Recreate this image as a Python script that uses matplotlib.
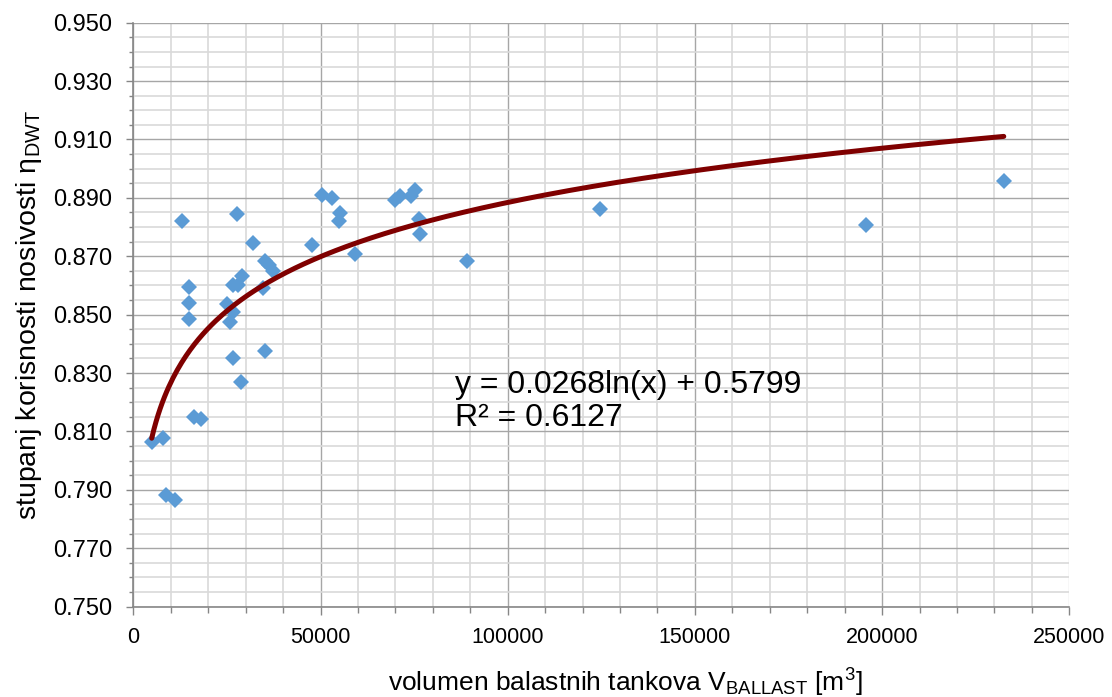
import numpy as np
import matplotlib
matplotlib.use("Agg")
import matplotlib.pyplot as plt
from matplotlib.ticker import MultipleLocator, FormatStrFormatter

plt.rcParams['font.family'] = ['Liberation Sans', 'DejaVu Sans']
plt.rcParams['mathtext.fontset'] = 'custom'
plt.rcParams['mathtext.rm'] = 'Liberation Sans'
plt.rcParams['mathtext.it'] = 'Liberation Sans:italic'

# ballast tank volume [m3] and deadweight efficiency
volume = [4910, 8010, 8730, 11130, 12920, 14950, 14950, 14950, 16210, 18000,
          24940, 25820, 26540, 26700, 27770, 28040, 29110, 26540, 28680, 31880,
          34550, 35170, 36320, 37220, 35170, 47640, 50310, 52980, 55190, 54930,
          59280, 69880, 71210, 74150, 75220, 76290, 76560, 89030, 124620,
          195600, 232500]
eta = [0.8063, 0.8076, 0.7883, 0.7866, 0.8820, 0.8595, 0.8540, 0.8485, 0.8151, 0.8143,
       0.8538, 0.8475, 0.8600, 0.8509, 0.8845, 0.8600, 0.8634, 0.8350, 0.8268, 0.8747,
       0.8591, 0.8683, 0.8671, 0.8648, 0.8376, 0.8737, 0.8911, 0.8900, 0.8849, 0.8822,
       0.8709, 0.8892, 0.8905, 0.8905, 0.8926, 0.8829, 0.8777, 0.8685, 0.8863,
       0.8808, 0.8958]

x_ticks = [0, 50000, 100000, 150000, 200000, 250000]
y_ticks = [0.750, 0.770, 0.790, 0.810, 0.830, 0.850, 0.870, 0.890, 0.910, 0.930, 0.950]

# logarithmic trendline shown on the chart
fit_a = 0.0268
fit_b = 0.5799
eq_text = "y = 0.0268ln(x) + 0.5799"
r2_text = "R² = 0.6127"

fig = plt.figure(figsize=(11.12, 6.97), dpi=100)
ax = fig.add_axes([0.1199, 0.1297, 0.9616 - 0.1199, 0.9674 - 0.1297])

ax.set_xlim(0, 250000)
ax.set_ylim(0.750, 0.950)
ax.set_xticks(x_ticks)
ax.set_yticks(y_ticks)
ax.xaxis.set_minor_locator(MultipleLocator(10000))
ax.yaxis.set_minor_locator(MultipleLocator(0.005))
ax.yaxis.set_major_formatter(FormatStrFormatter('%.3f'))

ax.grid(which='minor', color='#d9d9d9', linewidth=1.2, zorder=0)
ax.grid(which='major', color='#a6a6a6', linewidth=1.0, zorder=0)
ax.set_axisbelow(True)
# right edge line is light in the original
ax.xaxis.get_gridlines()[-1].set_color('#d9d9d9')

for side in ['top', 'right']:
    ax.spines[side].set_visible(False)
for side in ['left', 'bottom']:
    ax.spines[side].set_color('#868686')
    ax.spines[side].set_linewidth(1.2)

ax.tick_params(axis='y', which='major', direction='out', length=5, width=1,
               color='#868686', labelsize=17, pad=10)
ax.tick_params(axis='y', which='minor', direction='out', length=3, width=1,
               color='#868686')
ax.tick_params(axis='x', which='major', direction='out', length=6, width=1,
               color='#868686', labelsize=15.5, pad=9)
ax.tick_params(axis='x', which='minor', direction='out', length=4, width=1,
               color='#868686')

ax.plot(volume, eta, linestyle='none', marker='D', markersize=8.5,
        color='#5b9bd5', markeredgewidth=0, zorder=3)

xs = np.linspace(min(volume), max(volume), 400)
ax.plot(xs, fit_a * np.log(xs) + fit_b, color='#7f0000', linewidth=3.6,
        solid_capstyle='round', zorder=4)

ax.text(86000, 0.8258, eq_text, fontsize=23, va='center', ha='left', zorder=5)
ax.text(86000, 0.8145, r2_text, fontsize=23, va='center', ha='left', zorder=5)

ax.set_xlabel(r'volumen balastnih tankova V$_{\mathrm{BALLAST}}$ [m$^{3}$]',
              fontsize=19, labelpad=13)
ax.xaxis.label.set_x(0.526)
ax.set_ylabel(r'stupanj korisnosti nosivosti η$_{\mathrm{DWT}}$',
              fontsize=20.5, labelpad=7)

fig.savefig('out.png', dpi=100)
